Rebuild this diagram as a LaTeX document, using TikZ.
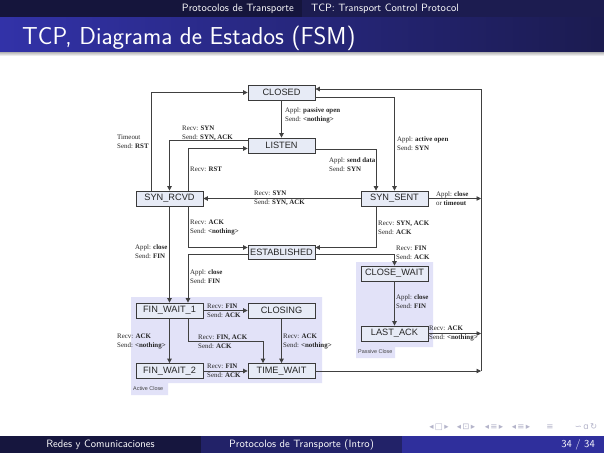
\documentclass[tikz,border=0pt]{standalone}
\usepackage{fontspec}
\newfontfamily\lblfont{Liberation Serif}
\newfontfamily\boxfont{Liberation Sans}
\newfontfamily\symfont{DejaVu Sans}
\usetikzlibrary{arrows.meta}

\definecolor{headleft}{HTML}{15153C}
\definecolor{headright}{HTML}{1C1C50}
\definecolor{titleleft}{HTML}{3232A8}
\definecolor{titleright}{HTML}{1B1B50}
\definecolor{footA}{HTML}{16163E}
\definecolor{footB}{HTML}{222268}
\definecolor{footC}{HTML}{2F2F9C}
\definecolor{statefill}{HTML}{E7EBF6}
\definecolor{stateline}{HTML}{3A3A3A}
\definecolor{groupfill}{HTML}{E2E2F8}
\definecolor{wirecol}{HTML}{404040}
\definecolor{navgray}{HTML}{B4B4CA}

\tikzset{
  state/.style={draw=stateline, line width=0.8pt, fill=statefill,
    minimum width=67pt, minimum height=15pt, inner sep=0pt,
    font=\boxfont\fontsize{9.2}{9.2}\selectfont, text=black!85},
  wire/.style={draw=wirecol, line width=0.8pt},
  arr/.style={wire, -{Triangle[length=4.5pt,width=4.5pt]}},
  lbl/.style={anchor=west, inner sep=0pt, align=left,
    font=\lblfont\fontsize{6.9}{9}\selectfont, text=black!85},
  grouplbl/.style={anchor=west, inner sep=0pt,
    font=\boxfont\fontsize{5.4}{6}\selectfont, text=black!75},
  bartext/.style={inner sep=0pt, text=white, font=\sffamily\fontsize{10.6}{11}\selectfont},
  navsym/.style={inner sep=0pt, text=navgray, font=\symfont\fontsize{8.5}{9}\selectfont},
}

\begin{document}
\begin{tikzpicture}[x=1pt,y=-1pt]
\useasboundingbox (0,0) rectangle (604,453);
\fill[white] (0,0) rectangle (604,453);

% ---- headline ----
\fill[headleft] (0,0) rectangle (302,17);
\fill[headright] (302,0) rectangle (604,17);
\node[bartext, anchor=east] (section) at (294,9) {Protocolos de Transporte};
\node[bartext, anchor=west] (subsection) at (311,9) {TCP: Transport Control Protocol};

% ---- frame title ----
\shade[left color=titleleft, right color=titleright] (0,17) rectangle (604,52);
\shade[top color=black!30, bottom color=white] (0,52) rectangle (604,56);
\node[anchor=base west, inner sep=0pt, text=white,
  font=\sffamily\fontsize{24.5}{26}\selectfont] (title) at (22,44)
  {TCP, Diagrama de Estados (FSM)};

% ---- close groups ----
\fill[groupfill] (131,297) -- (322,297) -- (322,383) -- (168,383)
  -- (168,395) -- (131,395) -- cycle;
\fill[groupfill] (356,262) -- (433,262) -- (433,347) -- (395,347)
  -- (395,358) -- (356,358) -- cycle;
\node[grouplbl] (activelbl) at (133,389) {Active Close};
\node[grouplbl] (passivelbl) at (358,352) {Passive Close};

% ---- states ----
\node[state] (closed)      at (281.5,92.5)  {CLOSED};
\node[state] (listen)      at (281.5,145.5) {LISTEN};
\node[state] (synrcvd)     at (169.5,198.5) {SYN\_RCVD};
\node[state] (synsent)     at (394.5,198.5) {SYN\_SENT};
\node[state, minimum height=14pt] (established) at (281.5,252) {ESTABLISHED};
\node[state] (closewait)   at (394.5,273.5) {CLOSE\_WAIT};
\node[state] (lastack)     at (394.5,333.5) {LAST\_ACK};
\node[state] (finwait1)    at (169.5,310.5) {FIN\_WAIT\_1};
\node[state] (closing)     at (281.5,310.5) {CLOSING};
\node[state] (finwait2)    at (169.5,371)   {FIN\_WAIT\_2};
\node[state] (timewait)    at (281.5,371)   {TIME\_WAIT};

% ---- lanes for the bent connectors ----
\coordinate (laneA) at (151,0);
\coordinate (laneB) at (188,0);
\coordinate (laneC) at (376,0);
\coordinate (rail)  at (481,0);
\coordinate (bend)  at (263,341);

% ---- transitions ----
\draw[arr] (closed) -- (listen);
\draw[arr] (synrcvd.north -| laneA) |- (closed.west);
\draw[arr] (timewait.east -| rail) |- ([yshift=3.5pt]closed.east);
\draw[arr] ([yshift=-5pt]closed.east) -| (synsent.north);
\draw[arr] ([yshift=5pt]listen.west) -| (synrcvd.north);
\draw[arr] (synrcvd.north -| laneB) |- ([yshift=-3pt]listen.west);
\draw[arr] ([yshift=-4pt]listen.east) -| (synsent.north -| laneC);
\draw[arr] (synsent) -- (synrcvd);
\draw[arr] (synsent.east) -- (synsent.east -| rail);
\draw[arr] (synrcvd.south -| laneB) |- ([yshift=4.5pt]established.west);
\draw[arr] (synsent.south -| laneC) |- ([yshift=4.5pt]established.east);
\draw[arr] ([yshift=-2.5pt]established.west) -| (finwait1.north -| laneB);
\draw[arr] ([yshift=-2.5pt]established.east) -| (closewait.north);
\draw[arr] (synrcvd) -- (finwait1);
\draw[arr] (closewait) -- (lastack);
\draw[arr] (lastack.east) -- (lastack.east -| rail);
\draw[arr] (finwait1) -- (closing);
\draw[arr] (finwait1) -- (finwait2);
\draw[arr] (finwait1.south -| laneB) |- (bend) -- (timewait.north -| bend);
\draw[arr] (closing) -- (timewait);
\draw[arr] (finwait2) -- (timewait);
\draw[arr] (timewait.east) -- (timewait.east -| rail);

% ---- transition labels ----
\node[lbl] (t1)  at (285,115)   {Appl: \textbf{passive open}\\Send: \textbf{<nothing>}};
\node[lbl] (t2)  at (117,141.5) {Timeout\\Send: \textbf{RST}};
\node[lbl] (t3)  at (182,133)   {Recv: \textbf{SYN}\\Send: \textbf{SYN, ACK}};
\node[lbl] (t4)  at (190,169)   {Recv: \textbf{RST}};
\node[lbl] (t5)  at (397,143.5) {Appl: \textbf{active open}\\Send: \textbf{SYN}};
\node[lbl] (t6)  at (329,165)   {Appl: \textbf{send data}\\Send: \textbf{SYN}};
\node[lbl] (t7)  at (436,198.5) {Appl: \textbf{close}\\or \textbf{timeout}};
\node[lbl] (t8)  at (254,198.5) {Recv: \textbf{SYN}\\Send: \textbf{SYN, ACK}};
\node[lbl] (t9)  at (190,227.5) {Recv: \textbf{ACK}\\Send: \textbf{<nothing>}};
\node[lbl] (t10) at (378,227.5) {Recv: \textbf{SYN, ACK}\\Send: \textbf{ACK}};
\node[lbl] (t11) at (135,251.5) {Appl: \textbf{close}\\Send: \textbf{FIN}};
\node[lbl] (t12) at (396,252.5) {Recv: \textbf{FIN}\\Send: \textbf{ACK}};
\node[lbl] (t13) at (190,276.5) {Appl: \textbf{close}\\Send: \textbf{FIN}};
\node[lbl] (t14) at (396,301.5) {Appl: \textbf{close}\\Send: \textbf{FIN}};
\node[lbl] (t15) at (207,310.5) {Recv: \textbf{FIN}\\Send: \textbf{ACK}};
\node[lbl] (t16) at (117,341)   {Recv: \textbf{ACK}\\Send: \textbf{<nothing>}};
\node[lbl] (t17) at (198,341.5) {Recv: \textbf{FIN, ACK}\\Send: \textbf{ACK}};
\node[lbl] (t18) at (283,341.5) {Recv: \textbf{ACK}\\Send: \textbf{<nothing>}};
\node[lbl] (t19) at (207,371)   {Recv: \textbf{FIN}\\Send: \textbf{ACK}};
\node[lbl] (t20) at (429,333.5) {Recv: \textbf{ACK}\\Send: \textbf{<nothing>}};

% ---- navigation symbols ----
\node[navsym] (nav1) at (439,427) {◂\,□\,▸};
\node[navsym] (nav2) at (466,427) {◂\,⊡\,▸};
\node[navsym] (nav3) at (494,427) {◂\,≡\,▸};
\node[navsym] (nav4) at (521,427) {◂\,≡\,▸};
\node[navsym] (nav5) at (550,427) {≡};
\node[navsym] (nav6) at (586,427) {∽\,ɑ\,↻};

% ---- footline ----
\fill[footA] (0,436) rectangle (201,453);
\fill[footB] (201,436) rectangle (402,453);
\fill[footC] (402,436) rectangle (604,453);
\node[bartext] (author) at (100.5,445) {Redes y Comunicaciones};
\node[bartext] (short)  at (301.5,445) {Protocolos de Transporte (Intro)};
\node[bartext, anchor=east] (page) at (595,445) {34 / 34};
\end{tikzpicture}
\end{document}
